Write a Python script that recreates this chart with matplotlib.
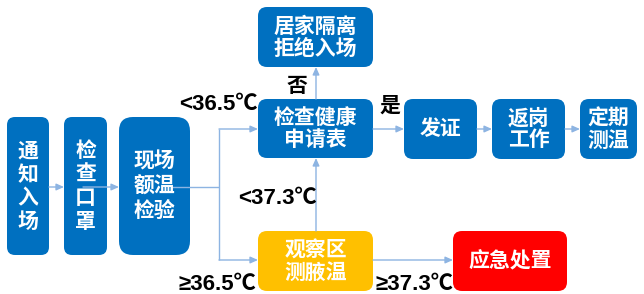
import matplotlib
matplotlib.use("Agg")
import matplotlib.pyplot as plt
from matplotlib.patches import FancyBboxPatch

plt.rcParams['font.family'] = ['Noto Sans CJK SC', 'DejaVu Sans']

# ---- content ----
box_labels = [
    ["通", "知", "入", "场"],
    ["检", "查", "口", "罩"],
    ["现场", "额温", "检验"],
    ["居家隔离", "拒绝入场"],
    ["检查健康", "申请表"],
    ["发证"],
    ["返岗", "工作"],
    ["定期", "测温"],
    ["观察区", "测腋温"],
    ["应急处置"],
]
box_colors = ["#0070C0"] * 8 + ["#FFC000", "#FF0000"]
edge_labels = ["<36.5℃", "否", "是", "<37.3℃", "≥36.5℃", "≥37.3℃"]

# ---- layout (pixels) ----
W, H = 644, 294
boxes = [  # x0, y0, x1, y1, radius, line spacing
    (7, 117, 49, 255, 8, 23.5),
    (64, 117, 107, 255, 8, 23.5),
    (119, 117, 190, 255, 14, 24.5),
    (258, 7, 373, 67, 9, 22),
    (258, 99, 373, 158, 9, 22),
    (404, 99, 477, 159, 9, 22),
    (492, 99, 565, 159, 9, 22),
    (580, 99, 637, 159, 9, 22),
    (258, 231, 373, 291, 9, 22),
    (453, 231, 567, 291, 9, 22),
]
label_pos = [(218, 104), (297, 85), (390, 105), (278, 199), (217, 285), (415, 285)]
line_color = "#8DB4E2"
label_family = ['Liberation Sans', 'Noto Sans CJK SC', 'DejaVu Sans']

fig = plt.figure(figsize=(W / 100, H / 100), dpi=100)
ax = fig.add_axes([0, 0, 1, 1])
ax.set_xlim(0, W)
ax.set_ylim(H, 0)
ax.axis("off")

# connectors
def seg(x0, y0, x1, y1, arrow=False):
    if arrow:
        ax.annotate("", xy=(x1, y1), xytext=(x0, y0),
                    arrowprops=dict(arrowstyle="-|>,head_length=0.45,head_width=0.2",
                                    color=line_color, lw=1.0,
                                    shrinkA=0, shrinkB=0), zorder=3)
    else:
        ax.plot([x0, x1], [y0, y1], color=line_color, lw=1.0, zorder=3,
                solid_capstyle="butt")

for i, lab in enumerate(box_labels):
    x0, y0, x1, y1, r, ls = boxes[i]
    p = FancyBboxPatch((x0, y0), x1 - x0, y1 - y0,
                       boxstyle=f"round,pad=0,rounding_size={r}",
                       fc=box_colors[i], ec="none", zorder=2)
    ax.add_patch(p)
    cx = (x0 + x1) / 2
    cy = (y0 + y1) / 2
    n = len(lab)
    for k, t in enumerate(lab):
        y = cy + (k - (n - 1) / 2) * ls
        ax.text(cx, y, t, ha="center", va="center", color="white",
                fontsize=15, fontweight="bold", zorder=5)

seg(49, 187, 64, 187, True)
seg(83, 187, 119, 187, True)
seg(172, 187, 219, 187)
seg(219, 129, 219, 260)
seg(219, 129, 258, 129, True)
seg(219, 260, 258, 260, True)
seg(316, 231, 316, 158, True)
seg(316, 99, 316, 67, True)
seg(373, 129, 404, 129, True)
seg(477, 129, 492, 129, True)
seg(565, 129, 580, 129, True)
seg(373, 260, 453, 260, True)

for t, (x, y) in zip(edge_labels, label_pos):
    cjk = t in ("否", "是")
    fam = ['Noto Sans CJK SC'] if cjk else label_family
    ax.text(x, y, t, ha="center", va="center", color="black",
            fontsize=15 if cjk else 16, fontweight="bold", family=fam, zorder=6)

fig.savefig("out.png", dpi=100, facecolor="white")
